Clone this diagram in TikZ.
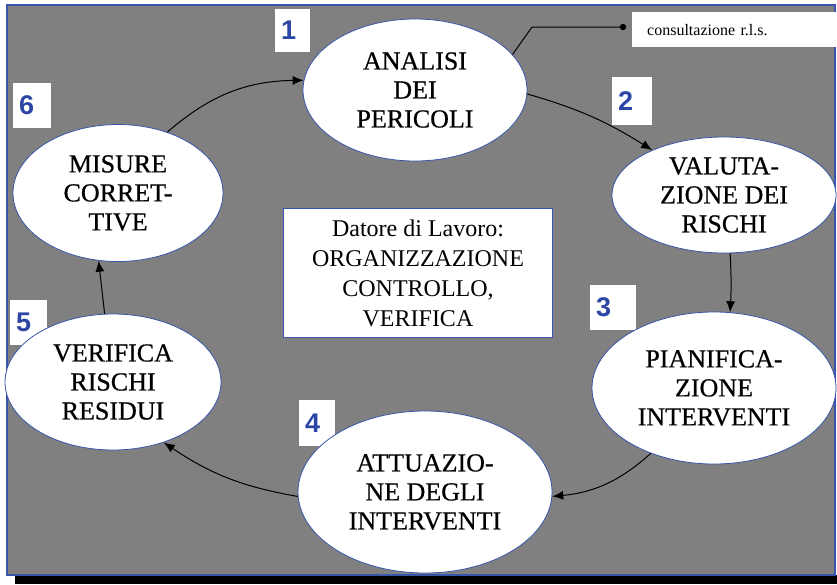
\documentclass[tikz,border=0pt]{standalone}
\usepackage{fontspec}
\setmainfont{Liberation Serif}
\newfontfamily\numfont{Liberation Sans}
\newfontfamily\heavyserif[FakeBold=0.6]{Liberation Serif}
\usetikzlibrary{shapes.geometric,arrows.meta}
\definecolor{bggray}{RGB}{128,128,128}
\definecolor{frameblue}{RGB}{55,85,170}
\definecolor{numblue}{RGB}{45,70,165}
\begin{document}
\begin{tikzpicture}[x=1pt,y=-1pt,
  stage/.style={ellipse, fill=white, draw=frameblue, line width=0.8pt, inner sep=0pt,
    align=center, font=\heavyserif\fontsize{26}{29}\selectfont},
  numbox/.style={fill=white, inner ysep=0pt, inner xsep=6pt, anchor=north west, align=left,
    text=numblue, font=\numfont\bfseries\fontsize{27}{27}\selectfont},
  flow/.style={line width=1pt, -{Latex[length=11pt,width=9pt]}},
]
\useasboundingbox (0,0) rectangle (837,584);
% frame and shadow
\fill[black] (15,575) rectangle (837,584);
\fill[bggray] (7,5) rectangle (835,575);
\draw[frameblue, line width=2.5pt] (7,5) rectangle (835,575);

% number boxes
\node[numbox, minimum width=35pt, minimum height=43pt, text width=23pt] (n1) at (275,9) {1};
\node[numbox, minimum width=40pt, minimum height=48pt, text width=28pt] (n2) at (612,77) {2};
\node[numbox, minimum width=46pt, minimum height=45pt, text width=34pt] (n3) at (590,285) {3};
\node[numbox, minimum width=36pt, minimum height=46pt, text width=24pt] (n4) at (299,400) {4};
\node[numbox, minimum width=37pt, minimum height=45pt, text width=25pt] (n5) at (10,300) {5};
\node[numbox, minimum width=38pt, minimum height=45pt, text width=26pt] (n6) at (13,83) {6};

% stages
\node[stage, minimum width=224pt, minimum height=142pt] (s1) at (415,90) {ANALISI\\DEI\\PERICOLI};
\node[stage, minimum width=224pt, minimum height=116pt] (s2) at (724,195) {VALUTA-\\ZIONE DEI\\RISCHI};
\node[stage, minimum width=244pt, minimum height=152pt] (s3) at (714,388) {PIANIFICA-\\ZIONE\\INTERVENTI};
\node[stage, minimum width=254pt, minimum height=162pt] (s4) at (425,492) {ATTUAZIO-\\NE DEGLI\\INTERVENTI};
\node[stage, minimum width=216pt, minimum height=136pt] (s5) at (113,382) {VERIFICA\\RISCHI\\RESIDUI};
\node[stage, minimum width=210pt, minimum height=137pt] (s6) at (118,193) {MISURE\\CORRET-\\TIVE};

% centre box
\node[fill=white, draw=frameblue, line width=0.8pt, minimum width=269pt, minimum height=129pt,
  align=center, font=\fontsize{24}{30}\selectfont] (dl) at (418,273)
  {Datore di Lavoro:\\ORGANIZZAZIONE\\CONTROLLO,\\VERIFICA};

% consultation box
\node[fill=white, anchor=north west, minimum width=205pt, minimum height=35pt, inner xsep=15pt,
  text width=175pt, align=left, font=\fontsize{16}{16}\selectfont] (cons) at (632,12) {consultazione r.l.s.};
\coordinate (kink) at (532,27);
\coordinate (dot) at (623,27);
\draw[line width=1pt] (s1.20) -- (kink) -- (dot);
\fill (dot) circle (3.2pt);

% flow arrows
\draw[flow] (s6.51) to[bend left=20] (s1.175);
\draw[flow] (s1.-2) to[bend left=8] (s2.148);
\draw[flow] (s2.-84) to[bend left=3] (s3.78);
\draw[flow] (s3.226) to[bend left=18] (s4.-2);
\draw[flow] (s4.182) to[bend left=12] (s5.-50);
\draw[flow] (s5.97) -- (s6.254);
\end{tikzpicture}
\end{document}
